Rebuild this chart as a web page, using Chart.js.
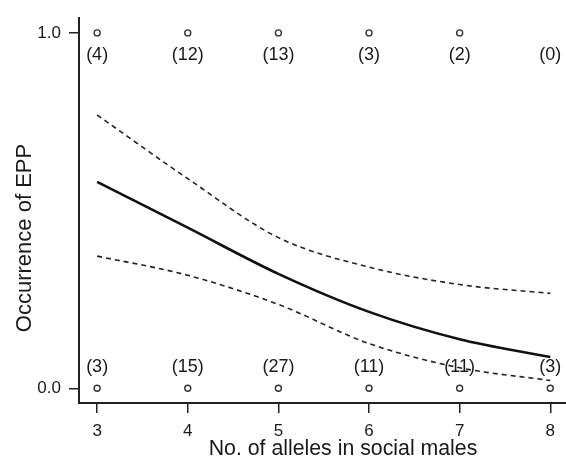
<!DOCTYPE html>
<html>
<head>
<meta charset="utf-8">
<script src="https://cdn.jsdelivr.net/npm/chart.js@4.4.1/dist/chart.umd.min.js"></script>
<style>
  html, body { margin: 0; padding: 0; background: #fff; overflow: hidden; width: 566px; height: 460px; }
  canvas { display: block; }
</style>
</head>
<body>
<canvas id="c" width="572" height="460"></canvas>
<script>
// ---- data ----
const xTickValues = [3, 4, 5, 6, 7, 8];
const yTickValues = [0, 1];
const yTickLabels = ['0.0', '1.0'];

const curveX = [3, 4, 5, 6, 7, 8];
const fitted = [0.581, 0.452, 0.322, 0.215, 0.138, 0.088];
const upperCI = [0.769, 0.590, 0.424, 0.341, 0.292, 0.267];
const lowerCI = [0.372, 0.318, 0.236, 0.126, 0.058, 0.022];

const presentX = [3, 4, 5, 6, 7];          // EPP = 1 observed
const absentX = [3, 4, 5, 6, 7, 8];        // EPP = 0 observed
const countX = [3, 4, 5, 6, 7, 8];
const presentCounts = ['(4)', '(12)', '(13)', '(3)', '(2)', '(0)'];
const absentCounts = ['(3)', '(15)', '(27)', '(11)', '(11)', '(3)'];

const xTitle = 'No. of alleles in social males';
const yTitle = 'Occurrence of EPP';

// ---- build ----
const toXY = (xs, ys) => xs.map((x, i) => ({ x: x, y: ys[i] }));
const FONT = '"Liberation Sans", Arial, Helvetica, sans-serif';
const INK = '#1a1a1a';

const textPlugin = {
  id: 'texts',
  afterDatasetsDraw(chart) {
    const ctx = chart.ctx;
    const xs = chart.scales.x, ys = chart.scales.y;
    ctx.save();
    ctx.fillStyle = INK;
    ctx.font = '18px ' + FONT;
    ctx.textAlign = 'center';
    ctx.textBaseline = 'middle';
    countX.forEach((x, i) => {
      ctx.fillText(presentCounts[i], xs.getPixelForValue(x), ys.getPixelForValue(1) + 22);
      ctx.fillText(absentCounts[i], xs.getPixelForValue(x), ys.getPixelForValue(0) - 21);
    });
    // axis titles
    ctx.font = '21.3px ' + FONT;
    ctx.fillText(xTitle, 343, 449);
    ctx.font = '22px ' + FONT;
    ctx.translate(25, 238);
    ctx.rotate(-Math.PI / 2);
    ctx.fillText(yTitle, 0, 0);
    ctx.restore();
  }
};

new Chart(document.getElementById('c'), {
  type: 'scatter',
  data: {
    datasets: [
      {
        type: 'line', data: toXY(curveX, upperCI), borderColor: '#222', borderWidth: 1.6,
        borderDash: [5, 4], pointRadius: 0, fill: false, cubicInterpolationMode: 'monotone'
      },
      {
        type: 'line', data: toXY(curveX, lowerCI), borderColor: '#222', borderWidth: 1.6,
        borderDash: [5, 4], pointRadius: 0, fill: false, cubicInterpolationMode: 'monotone'
      },
      {
        type: 'line', data: toXY(curveX, fitted), borderColor: '#111', borderWidth: 2.6,
        pointRadius: 0, fill: false, cubicInterpolationMode: 'monotone'
      },
      {
        data: presentX.map(x => ({ x: x, y: 1 })), pointRadius: 3, pointBorderWidth: 1.4,
        pointBackgroundColor: '#fff', pointBorderColor: '#333', showLine: false
      },
      {
        data: absentX.map(x => ({ x: x, y: 0 })), pointRadius: 3, pointBorderWidth: 1.4,
        pointBackgroundColor: '#fff', pointBorderColor: '#333', showLine: false
      }
    ]
  },
  options: {
    responsive: false,
    animation: false,
    devicePixelRatio: 1,
    layout: { padding: { top: 10, right: 0, left: 0, bottom: 0 } },
    plugins: { legend: { display: false }, tooltip: { enabled: false } },
    scales: {
      x: {
        type: 'linear', min: 2.8, max: 8.18,
        afterBuildTicks: s => { s.ticks = xTickValues.map(v => ({ value: v })); },
        afterFit: s => { s.height = 57; },
        grid: { display: true, drawOnChartArea: false, drawTicks: true, tickLength: 10, color: '#222', lineWidth: 1.5 },
        border: { display: true, color: '#222', width: 2 },
        ticks: { color: INK, font: { family: FONT, size: 17 }, padding: 8, maxRotation: 0, autoSkip: false,
                 callback: v => String(v) }
      },
      y: {
        type: 'linear', min: -0.0413, max: 1.0413,
        afterBuildTicks: s => { s.ticks = yTickValues.map(v => ({ value: v })); },
        afterFit: s => { s.width = 79; },
        grid: { display: true, drawOnChartArea: false, drawTicks: true, tickLength: 10, color: '#222', lineWidth: 1.5 },
        border: { display: true, color: '#222', width: 2 },
        ticks: { color: INK, font: { family: FONT, size: 17 }, padding: 8, autoSkip: false,
                 callback: v => yTickLabels[yTickValues.indexOf(v)] }
      }
    }
  },
  plugins: [textPlugin]
});
</script>
</body>
</html>
